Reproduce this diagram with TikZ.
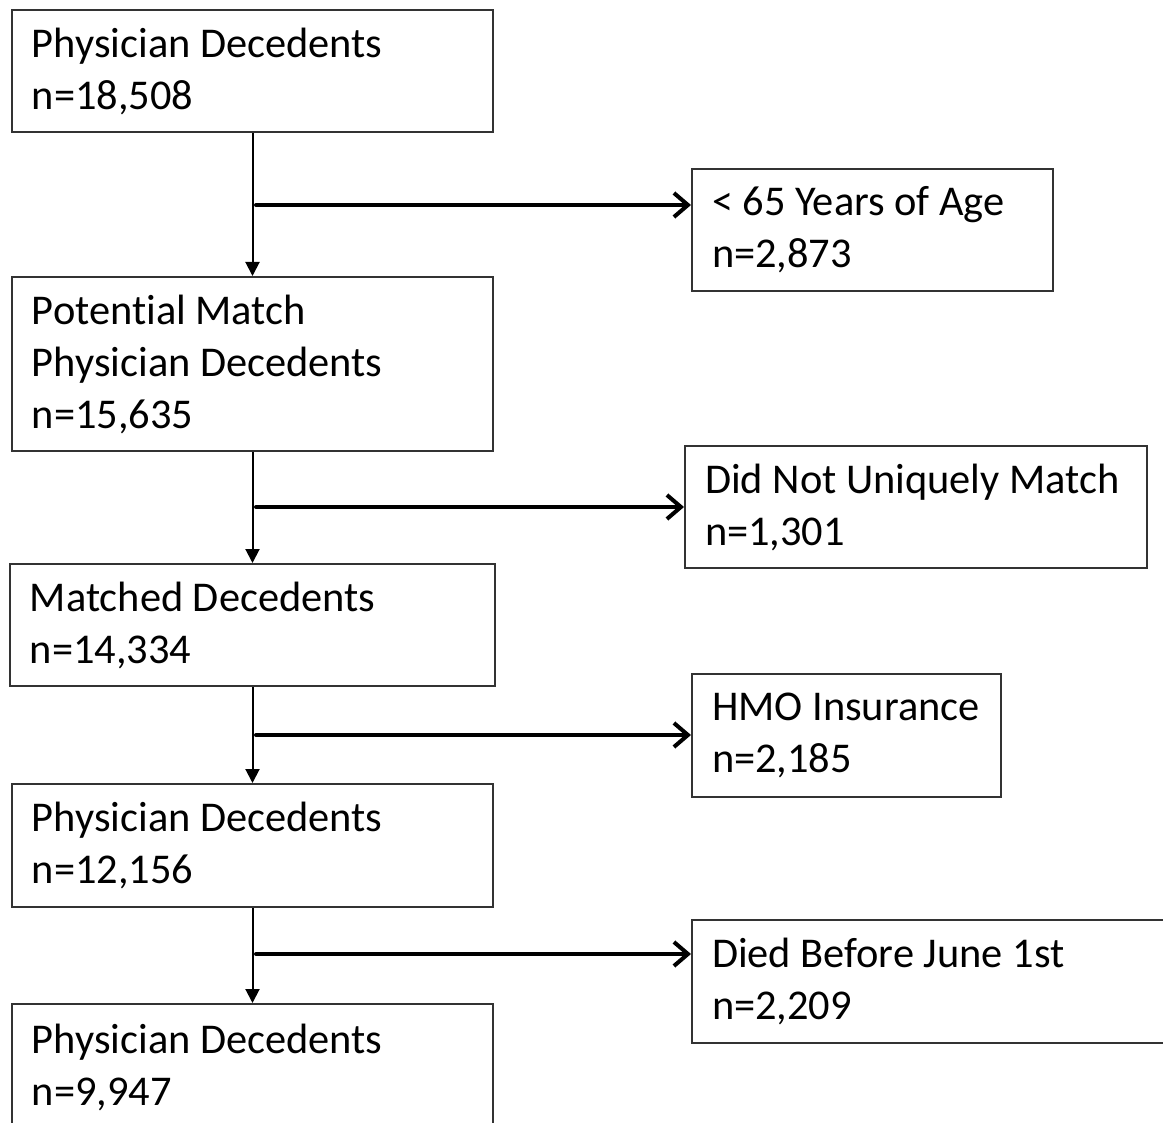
\documentclass[tikz,border=0pt]{standalone}
\usepackage{fontspec}
\setmainfont{Carlito}[Ligatures=NoCommon]
\usetikzlibrary{arrows.meta}
\tikzset{
	% casella del diagramma di flusso
	blocco/.style={draw=black!80, line width=1pt, rectangle, anchor=north west, align=flush left,
	               inner xsep=10pt, inner ysep=0pt, font=\fontsize{21.2}{26}\selectfont,
	               execute at begin node={\spaceskip=0pt\xspaceskip=0pt\hyphenpenalty=10000\relax}},
	% freccia verticale (coorte)
	flusso/.style={-{Triangle[length=7pt,width=7pt]}, line width=1pt},
	% freccia verso gli esclusi
	esclusi/.style={-{Straight Barb[length=7pt,width=12pt]}, line width=2pt, line cap=round},
}

\begin{document}
\begin{tikzpicture}[x=0.5pt, y=-0.5pt]
    \useasboundingbox (0,0) rectangle (1163,1123);
    % coorte principale
    \node[blocco, text width=220.5pt, minimum height=61pt] (b1) at (11,9) {Physician Decedents\\n=18,508};
    \node[blocco, text width=220.5pt, minimum height=87pt] (b2) at (11,276) {Potential Match\\Physician Decedents\\n=15,635};
    \node[blocco, text width=222.5pt, minimum height=61pt] (b3) at (9,563) {Matched Decedents\\n=14,334};
    \node[blocco, text width=220.5pt, minimum height=61.5pt] (b4) at (11,783) {Physician Decedents\\n=12,156};
    \node[blocco, text width=220.5pt, minimum height=63pt] (b5) at (11,1003) {Physician Decedents\\n=9,947};
    % esclusi
    \node[blocco, text width=160.5pt, minimum height=61pt] (eta) at (691,168) {< 65 Years of Age\\n=2,873};
    \node[blocco, text width=211pt, minimum height=61pt] (unico) at (684,445) {Did Not Uniquely Match\\n=1,301};
    \node[blocco, text width=134.5pt, minimum height=61.5pt] (hmo) at (691,673) {HMO Insurance\\n=2,185};
    \node[blocco, text width=217.5pt, minimum height=61.5pt] (giugno) at (691,919) {Died Before June 1st\\n=2,209};
    % diramazioni
    \coordinate (s1) at (256,205);
    \coordinate (s2) at (256,507);
    \coordinate (s3) at (256,735);
    \coordinate (s4) at (256,954);
    \draw[flusso] (b1) -- (b2);
    \draw[flusso] (b2) -- (b3);
    \draw[flusso] (b3) -- (b4);
    \draw[flusso] (b4) -- (b5);
    \draw[esclusi] (s1) -- (s1 -| eta.west);
    \draw[esclusi] (s2) -- (s2 -| unico.west);
    \draw[esclusi] (s3) -- (s3 -| hmo.west);
    \draw[esclusi] (s4) -- (s4 -| giugno.west);
\end{tikzpicture}
\end{document}
